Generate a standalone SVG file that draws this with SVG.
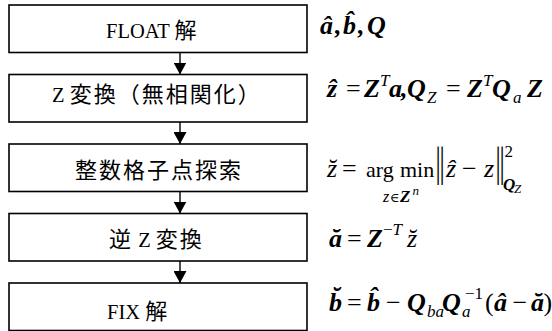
<svg xmlns="http://www.w3.org/2000/svg" width="552" height="331" viewBox="0 0 552 331">
<defs>
<style>
.box{fill:#fff;stroke:#000;stroke-width:1.6}
.con{stroke:#000;stroke-width:1.4;fill:none}
.lbl{font-family:"Liberation Serif","Noto Sans CJK JP",serif;font-size:20.5px;fill:#000}
.cjk{font-family:"Noto Sans CJK JP",sans-serif;font-size:22px;letter-spacing:2px}
.m{font-family:"Liberation Serif","DejaVu Serif",serif;font-size:26px;fill:#000}
.bi{font-weight:bold;font-style:italic}
.it{font-style:italic}
.s{font-size:17px}
.ss{font-size:13px}
.op{font-size:22px}
.bar{letter-spacing:-1.2px}
</style>
<marker id="ah" viewBox="0 0 12 13" refX="12" refY="6.5" markerWidth="12" markerHeight="13" markerUnits="userSpaceOnUse" orient="auto">
<path d="M0,0 L12,6.5 L0,13 z" fill="#000"/>
</marker>
</defs>
<rect width="552" height="331" fill="#fff"/>
<g id="connectors">
<line class="con" x1="180" y1="52.5" x2="180" y2="74.5" marker-end="url(#ah)"/>
<line class="con" x1="180" y1="122" x2="180" y2="144" marker-end="url(#ah)"/>
<line class="con" x1="180" y1="191.5" x2="180" y2="213.5" marker-end="url(#ah)"/>
<line class="con" x1="180" y1="261" x2="180" y2="283" marker-end="url(#ah)"/>
</g>
<g id="node-float">
<rect class="box" x="9" y="5" width="298" height="47.5"/>
<text class="lbl" x="106" y="37.5">FLOAT <tspan class="cjk">解</tspan></text>
</g>
<g id="node-ztrans">
<rect class="box" x="9" y="74.5" width="298" height="47.5"/>
<text class="lbl" x="52" y="102">Z <tspan class="cjk">変換（無相関化）</tspan></text>
</g>
<g id="node-search">
<rect class="box" x="9" y="144" width="298" height="47.5"/>
<text class="lbl" x="75" y="177.5"><tspan class="cjk">整数格子点探索</tspan></text>
</g>
<g id="node-invz">
<rect class="box" x="9" y="213.5" width="298" height="47.5"/>
<text class="lbl" x="109" y="246.5"><tspan class="cjk">逆</tspan> Z <tspan class="cjk">変換</tspan></text>
</g>
<g id="node-fix">
<rect class="box" x="9" y="283" width="298" height="47.5"/>
<text class="lbl" x="107" y="318.5">FIX <tspan class="cjk">解</tspan></text>
</g>
<g id="eq-float">
<text class="m bi" y="34"><tspan x="320">â</tspan><tspan x="335">,</tspan><tspan x="343">b̂</tspan><tspan x="358">,</tspan><tspan x="367">Q</tspan></text>
</g>
<g id="eq-ztrans">
<text class="m" y="97"><tspan class="bi" x="327">ẑ</tspan><tspan x="346">=</tspan><tspan class="bi" x="364">Z</tspan><tspan class="it s" x="380" y="86">T</tspan><tspan class="bi" x="389" y="97">a</tspan><tspan class="bi" x="401">,</tspan><tspan class="bi" x="407">Q</tspan><tspan class="it s" x="427" y="103">Z</tspan><tspan x="446" y="97">=</tspan><tspan class="bi" x="467">Z</tspan><tspan class="it s" x="483" y="86">T</tspan><tspan class="bi" x="492" y="97">Q</tspan><tspan class="it s" x="513" y="103">a</tspan><tspan class="bi" x="527" y="97">Z</tspan></text>
</g>
<g id="eq-search">
<text class="m" y="176.5"><tspan class="it" x="327">z̆</tspan><tspan x="342">=</tspan><tspan class="op" x="366">arg</tspan><tspan class="op" x="400">min</tspan><tspan class="it" x="446">ẑ</tspan><tspan x="462">−</tspan><tspan class="it" x="484">z</tspan><tspan class="s" x="504.5" y="157">2</tspan><tspan class="bi s" x="503" y="190">Q</tspan><tspan class="it ss" x="514" y="193">Z</tspan></text>
<text class="m bar" transform="translate(435.4,175.8) scale(1,1.62)">||</text>
<text class="m bar" transform="translate(495.4,175.8) scale(1,1.62)">||</text>
<text class="m" y="202"><tspan class="it" x="383" style="font-size:16px">z</tspan><tspan x="390" style="font-size:13px">∈</tspan><tspan class="bi" x="400" style="font-size:17px">Z</tspan><tspan class="it ss" x="412.5" y="195">n</tspan></text>
</g>
<g id="eq-invz">
<text class="m" y="246.5"><tspan class="bi" x="329">ă</tspan><tspan x="347">=</tspan><tspan class="bi" x="367">Z</tspan><tspan class="s" x="383" y="235">−</tspan><tspan class="it s" y="235">T</tspan><tspan class="it" x="407" y="246.5">z̆</tspan></text>
</g>
<g id="eq-fix">
<text class="m" y="310.5"><tspan class="bi" x="329">b̆</tspan><tspan x="347">=</tspan><tspan class="bi" x="367">b̂</tspan><tspan x="386">−</tspan><tspan class="bi" x="407">Q</tspan><tspan class="it s" x="427" y="317">ba</tspan><tspan class="bi" x="442" y="310.5">Q</tspan><tspan class="it s" x="462" y="317">a</tspan><tspan class="s" x="465" y="299">−1</tspan><tspan x="485" y="310.5">(</tspan><tspan class="bi" x="494">â</tspan><tspan x="512.5">−</tspan><tspan class="bi" x="531">ă</tspan><tspan x="543.5">)</tspan></text>
</g>
</svg>
